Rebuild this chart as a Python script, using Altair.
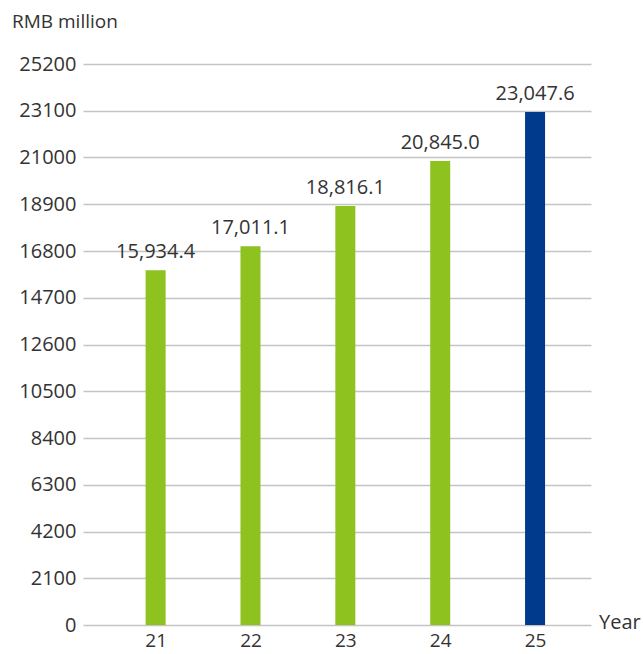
import altair as alt
import pandas as pd

years = [21, 22, 23, 24, 25]
values = [15934.4, 17011.1, 18816.1, 20845.0, 23047.6]
colors = ["#8DC21F", "#8DC21F", "#8DC21F", "#8DC21F", "#003A8C"]
y_ticks = [0, 2100, 4200, 6300, 8400, 10500, 12600, 14700, 16800, 18900, 21000, 23100, 25200]

df = pd.DataFrame({"year": years, "value": values, "color": colors})
df["label"] = df["value"].map(lambda v: f"{v:,.1f}")

FONT = "Open Sans"
W, H = 508, 561

x = alt.X("year:Q", scale=alt.Scale(domain=[20.287, 25.537], nice=False, zero=False),
          axis=alt.Axis(values=years, format="d", title=None, grid=False, domain=False,
                        ticks=False, labelFontSize=19, labelColor="#333333", labelFont=FONT,
                        labelPadding=6))
y = alt.Y("value:Q", scale=alt.Scale(domain=[0, 25200], nice=False),
          axis=alt.Axis(values=y_ticks, format="d", title=None, domain=False, ticks=False,
                        gridColor="#C4C4C4", gridWidth=1.5, labelFontSize=20,
                        labelColor="#333333", labelFont=FONT, labelPadding=7))

base = alt.Chart(df)
bars = base.mark_bar(size=20).encode(x=x, y=y, color=alt.Color("color:N", scale=None))
labels = base.mark_text(baseline="bottom", dy=-8, fontSize=20, font=FONT, color="#333333").encode(
    x="year:Q", y="value:Q", text="label:N")

unit = alt.Chart(pd.DataFrame({"t": ["RMB million"]})).mark_text(
    align="left", baseline="middle", fontSize=19, font=FONT, color="#333333").encode(
    x=alt.value(-71), y=alt.value(-42), text="t:N")
year_lbl = alt.Chart(pd.DataFrame({"t": ["Year"]})).mark_text(
    align="left", baseline="middle", fontSize=20, font=FONT, color="#333333").encode(
    x=alt.value(516), y=alt.value(H - 2), text="t:N")

chart = alt.layer(bars, labels, unit, year_lbl).properties(
    width=W, height=H,
    background="white",
    autosize=alt.AutoSizeParams(type="none"),
    padding={"left": 83, "top": 64, "right": 52, "bottom": 29},
).configure_view(strokeWidth=0)

chart.save("out.html", embed_options={"renderer": "svg", "actions": False})
